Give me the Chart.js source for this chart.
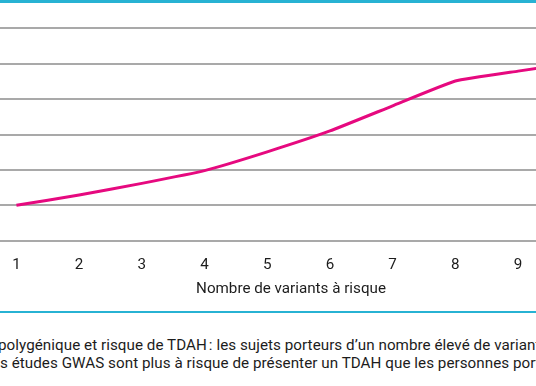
<!DOCTYPE html>
<html>
<head>
<meta charset="utf-8">
<script src="https://cdn.jsdelivr.net/npm/chart.js@4"></script>
<style>
  html, body { margin: 0; padding: 0; background: #fff; }
  body { width: 536px; height: 386px; overflow: hidden; position: relative; font-family: Roboto, "DejaVu Sans", sans-serif; }
  .rule { position: absolute; left: 0; width: 536px; background: #27b2d3; }
  #chart { position: absolute; left: 0; top: 0; }
  .caption { position: absolute; white-space: nowrap; font-size: 15.2px; letter-spacing: 0.05px; color: #1c1c1c; line-height: 18px; }
</style>
</head>
<body>
<div class="rule" style="top:0;height:3px;"></div>
<canvas id="chart" width="582" height="300"></canvas>
<div class="rule" style="top:311px;height:2px;"></div>
<div class="caption" style="left:-2px;top:336px;">polygénique et risque de TDAH&#8239;: les sujets porteurs d’un nombre élevé de variants</div>
<div class="caption" style="left:0px;top:354px;">s études GWAS sont plus à risque de présenter un TDAH que les personnes porteuses</div>
<script>
// Nombre de variants à risque (x) et risque relatif (y, unités de grille)
const variants = [1, 2, 3, 4, 5, 6, 7, 8, 9, 10];
const risque   = [1.0, 1.29, 1.62, 1.98, 2.51, 3.10, 3.81, 4.51, 4.79, 5.05];
const xTicks   = [1, 2, 3, 4, 5, 6, 7, 8, 9];

const PINK = '#e6097f';
const GRID = '#a9a9a9';
const FONT = { family: 'Roboto', size: 15.2 };

const ctx = document.getElementById('chart').getContext('2d');
new Chart(ctx, {
  type: 'line',
  data: {
    datasets: [{
      data: variants.map((v, i) => ({ x: v, y: risque[i] })),
      borderColor: PINK,
      borderWidth: 3,
      pointRadius: 0,
      tension: 0.12,
      fill: false,
    }],
  },
  options: {
    responsive: false,
    animation: false,
    layout: { padding: { top: 28.3, left: 0, right: 0, bottom: 0 } },
    plugins: { legend: { display: false }, tooltip: { enabled: false } },
    scales: {
      x: {
        type: 'linear',
        min: 0.738,
        max: 10.02,
        grid: { display: false },
        border: { display: false },
        afterBuildTicks: scale => { scale.ticks = xTicks.map(v => ({ value: v })); },
        afterFit: scale => { scale.height = 300 - 240.7; },
        ticks: {
          color: '#1c1c1c',
          padding: 7,
          font: FONT,
          maxRotation: 0,
          autoSkip: false,
        },
        title: {
          display: true,
          text: 'Nombre de variants à risque',
          color: '#1c1c1c',
          font: FONT,
          padding: { top: 0, bottom: 2 },
        },
      },
      y: {
        min: 0,
        max: 6,
        afterFit: scale => { scale.width = 0; },
        border: { display: false },
        grid: { color: GRID, lineWidth: 2, drawTicks: false },
        ticks: { display: false, stepSize: 1 },
      },
    },
  },
});
</script>
</body>
</html>
